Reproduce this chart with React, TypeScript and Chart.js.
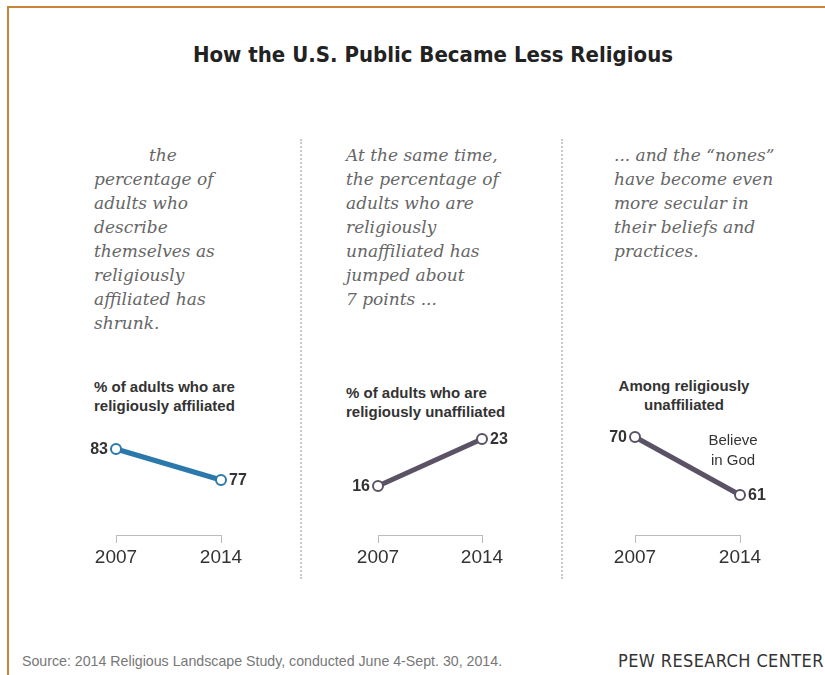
import React, { useEffect, useRef } from "react";
import { Chart, registerables } from "chart.js";

Chart.register(...registerables);

// ---- data ----
const years = ["2007", "2014"];
const affiliatedPct = [83, 77];
const unaffiliatedPct = [16, 23];
const believeInGodPct = [70, 61];

const panel1Text = ["the", "percentage of", "adults who", "describe", "themselves as", "religiously", "affiliated has", "shrunk."];
const panel2Text = ["At the same time,", "the percentage of", "adults who are", "religiously", "unaffiliated has", "jumped about", "7 points ..."];
const panel3Text = ["... and the \u201cnones\u201d", "have become even", "more secular in", "their beliefs and", "practices."];

const BLUE = "#2b78ab";
const PURPLE = "#5b5265";
const SANS = '"Liberation Sans", Arial, Helvetica, sans-serif';
const NARROW = '"Liberation Sans Narrow", "Arial Narrow", "DejaVu Sans Condensed", sans-serif';
const SERIF = '"DejaVu Serif", Georgia, serif';

type PanelCfg = {
  values: number[];
  color: string;
  sides: ("left" | "right")[];
  yMin: number;
  yMax: number;
  padLeft: number;
  padRight: number;
  note?: string[];
};

function makeLabelPlugin(cfg: PanelCfg) {
  return {
    id: "pointLabels",
    afterDatasetsDraw(chart: any) {
      const { ctx } = chart;
      const meta = chart.getDatasetMeta(0);
      const data = chart.data.datasets[0].data as number[];
      ctx.save();
      ctx.font = "bold 16px " + SANS;
      ctx.fillStyle = "#333333";
      ctx.textBaseline = "middle";
      cfg.sides.forEach((side, i) => {
        const pt = meta.data[i];
        if (!pt) return;
        ctx.textAlign = side === "left" ? "right" : "left";
        const dx = side === "left" ? -8 : 8;
        ctx.fillText(String(data[i]), pt.x + dx, pt.y + 1);
      });
      if (cfg.note) {
        const last = meta.data[meta.data.length - 1];
        ctx.font = "15px " + SANS;
        ctx.textAlign = "center";
        cfg.note.forEach((line, j) => {
          ctx.fillText(line, last.x - 7, last.y - 54 + j * 20);
        });
      }
      ctx.restore();
    },
  };
}

function LineChart(props: { cfg: PanelCfg; left: number; top: number; width: number; height: number }) {
  const ref = useRef<HTMLCanvasElement>(null);
  const { cfg } = props;
  useEffect(() => {
    if (!ref.current) return;
    const chart = new Chart(ref.current, {
      type: "line",
      data: {
        labels: years,
        datasets: [
          {
            data: cfg.values,
            borderColor: cfg.color,
            borderWidth: 5,
            pointRadius: 5,
            pointHoverRadius: 5,
            pointBorderWidth: 2,
            pointBackgroundColor: "#ffffff",
            pointBorderColor: cfg.color,
            tension: 0,
            clip: false as any,
          },
        ],
      },
      options: {
        animation: false,
        responsive: false,
        maintainAspectRatio: false,
        events: [],
        layout: { padding: { left: cfg.padLeft, right: cfg.padRight, top: 15, bottom: 15 } },
        plugins: { legend: { display: false }, tooltip: { enabled: false }, title: { display: false } },
        scales: {
          x: {
            type: "category",
            offset: false,
            afterFit: (scale: any) => {
              scale.height = 30;
            },
            grid: {
              display: true,
              drawOnChartArea: false,
              drawTicks: true,
              tickLength: 8,
              color: "#bbbbbb",
              lineWidth: 1,
            },
            border: { display: true, color: "#bbbbbb", width: 1 },
            ticks: {
              color: "#333333",
              font: { family: SANS, size: 19 },
              padding: 3,
              maxRotation: 0,
              autoSkip: false,
            },
          },
          y: {
            display: false,
            min: cfg.yMin,
            max: cfg.yMax,
          },
        },
      } as any,
      plugins: [makeLabelPlugin(cfg)],
    });
    return () => chart.destroy();
  }, []);
  return (
    <canvas
      ref={ref}
      width={props.width}
      height={props.height}
      style={{ position: "absolute", left: props.left, top: props.top, width: props.width, height: props.height }}
    />
  );
}

const paraStyle: React.CSSProperties = {
  position: "absolute",
  fontFamily: SERIF,
  fontStyle: "italic",
  fontSize: 17,
  lineHeight: "24px",
  color: "#666666",
  whiteSpace: "nowrap",
};

const subStyle: React.CSSProperties = {
  position: "absolute",
  fontFamily: SANS,
  fontWeight: "bold",
  fontSize: 15,
  lineHeight: "19px",
  color: "#333333",
  whiteSpace: "nowrap",
};

function Lines(props: { lines: string[]; indentFirst?: number }) {
  return (
    <>
      {props.lines.map((l, i) => (
        <div key={i} style={{ paddingLeft: i === 0 && props.indentFirst ? props.indentFirst : 0 }}>
          {l}
        </div>
      ))}
    </>
  );
}

export default function App() {
  const p1: PanelCfg = {
    values: affiliatedPct,
    color: BLUE,
    sides: ["left", "right"],
    yMin: 66.35,
    yMax: 85.71,
    padLeft: 56,
    padRight: 79,
  };
  const p2: PanelCfg = {
    values: unaffiliatedPct,
    color: PURPLE,
    sides: ["left", "right"],
    yMin: 8.7,
    yMax: 23.6,
    padLeft: 58,
    padRight: 78,
  };
  const p3: PanelCfg = {
    values: believeInGodPct,
    color: PURPLE,
    sides: ["left", "right"],
    yMin: 54.79,
    yMax: 70.31,
    padLeft: 55,
    padRight: 80,
    note: ["Believe", "in God"],
  };
  return (
    <div style={{ position: "absolute", left: 0, top: 0, width: 825, height: 675, background: "#ffffff", overflow: "hidden" }}>
      {/* frame */}
      <div style={{ position: "absolute", left: 7, top: 6, width: 830, height: 2, background: "#c8843a" }} />
      <div style={{ position: "absolute", left: 7, top: 6, width: 2, height: 680, background: "#c8843a" }} />

      <div
        style={{
          position: "absolute",
          left: 0,
          top: 41,
          width: 866,
          textAlign: "center",
          fontFamily: NARROW,
          fontWeight: "bold",
          fontSize: 22,
          lineHeight: "28px",
          color: "#222222",
        }}
      >
        How the U.S. Public Became Less Religious
      </div>

      {/* separators */}
      <div style={{ position: "absolute", left: 300, top: 139, height: 440, borderLeft: "2px dotted #c9c9c9" }} />
      <div style={{ position: "absolute", left: 561, top: 139, height: 440, borderLeft: "2px dotted #c9c9c9" }} />

      {/* paragraphs */}
      <div style={{ ...paraStyle, left: 94, top: 143 }}>
        <Lines lines={panel1Text} indentFirst={55} />
      </div>
      <div style={{ ...paraStyle, left: 346, top: 143 }}>
        <Lines lines={panel2Text} />
      </div>
      <div style={{ ...paraStyle, left: 614, top: 143 }}>
        <Lines lines={panel3Text} />
      </div>

      {/* subtitles */}
      <div style={{ ...subStyle, left: 94, top: 377 }}>
        <div>% of adults who are</div>
        <div>religiously affiliated</div>
      </div>
      <div style={{ ...subStyle, left: 346, top: 383 }}>
        <div>% of adults who are</div>
        <div>religiously unaffiliated</div>
      </div>
      <div style={{ ...subStyle, left: 604, top: 376, width: 160, textAlign: "center" }}>
        <div>Among religiously</div>
        <div>unaffiliated</div>
      </div>

      {/* charts */}
      <LineChart cfg={p1} left={60} top={420} width={240} height={160} />
      <LineChart cfg={p2} left={320} top={420} width={240} height={160} />
      <LineChart cfg={p3} left={580} top={420} width={240} height={160} />

      {/* footer */}
      <div style={{ position: "absolute", left: 22, top: 653, fontFamily: SANS, fontSize: 14.2, lineHeight: "17px", color: "#777777", whiteSpace: "nowrap" }}>
        Source: 2014 Religious Landscape Study, conducted June 4-Sept. 30, 2014.
      </div>
      <div
        style={{
          position: "absolute",
          left: 618,
          top: 651,
          fontFamily: NARROW,
          fontSize: 18,
          lineHeight: "20px",
          letterSpacing: 0.4,
          color: "#333333",
          whiteSpace: "nowrap",
        }}
      >
        PEW RESEARCH CENTER
      </div>
    </div>
  );
}
